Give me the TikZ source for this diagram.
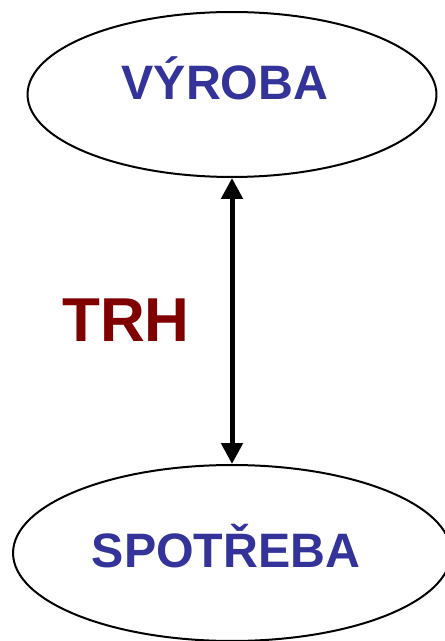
\documentclass[tikz,border=0pt]{standalone}
\usepackage{fontspec}
\setmainfont{Liberation Sans}
\usetikzlibrary{shapes.geometric,arrows.meta}
\definecolor{wordblue}{HTML}{333399}
\definecolor{trhred}{HTML}{800000}
\tikzset{
  oval/.style={ellipse, draw, line width=0.04cm, inner sep=0pt},
  word/.style={text=wordblue, anchor=base, font=\bfseries\fontsize{27.5}{30}\selectfont},
}
\begin{document}
\begin{tikzpicture}[x=0.02cm, y=-0.02cm]
			\useasboundingbox (0,0) rectangle (444,641);
			\node[oval, minimum width=8.18cm, minimum height=3.30cm] (vyroba) at (232,94.5) {};
			\node[oval, minimum width=8.76cm, minimum height=3.52cm] (spotreba) at (232,553) {};
			\node[word] (vyrobatext) at (225,100) {VÝROBA};
			\node[word] (spotrebatext) at (226,567) {SPOTŘEBA};
			\node[text=trhred, anchor=base, font=\bfseries\fontsize{35.3}{38}\selectfont] (trh) at (126,341) {TRH};
			\draw[{Triangle[length=0.42cm,width=0.42cm]}-{Triangle[length=0.42cm,width=0.42cm]}, line width=0.1cm] (vyroba.south) -- (spotreba.north);
		\end{tikzpicture}
\end{document}
